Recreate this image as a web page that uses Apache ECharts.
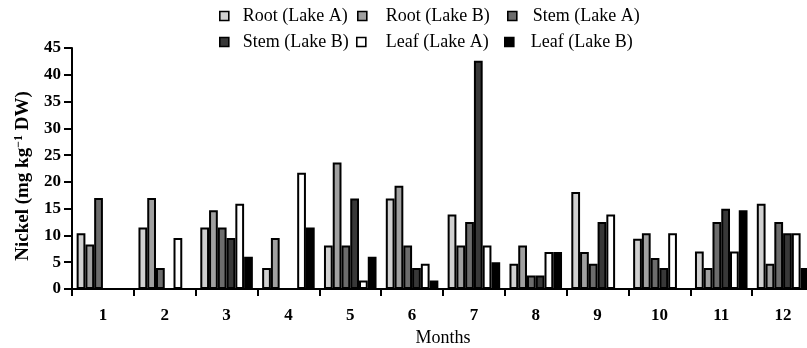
<!DOCTYPE html>
<html>
<head>
<meta charset="utf-8">
<script src="https://cdn.jsdelivr.net/npm/echarts@6/dist/echarts.min.js"></script>
<style>html,body{margin:0;padding:0;background:#fff;}#c{width:807px;height:348px;}</style>
</head>
<body>
<div id="c"></div>
<script>
var months = ['1','2','3','4','5','6','7','8','9','10','11','12'];
var yTicks = [0,5,10,15,20,25,30,35,40,45];
var seriesNames = ['Root (Lake A)','Root (Lake B)','Stem (Lake A)','Stem (Lake B)','Leaf (Lake A)','Leaf (Lake B)'];
var rootA = [10.4, 11.5, 11.5, 3.9, 8.1, 16.9, 13.9, 4.7, 18.1, 9.4, 7.0, 15.9];
var rootB = [8.3, 17.0, 14.7, 9.5, 23.6, 19.3, 8.1, 8.1, 6.9, 10.4, 3.9, 4.7];
var stemA = [17.0, 3.9, 11.5, null, 8.1, 8.1, 12.5, 2.5, 4.7, 5.8, 12.5, 12.5];
var stemB = [null, null, 9.5, null, 16.9, 3.9, 42.6, 2.5, 12.5, 3.9, 15.0, 10.4];
var leafA = [null, 9.5, 15.9, 21.7, 1.6, 4.7, 8.1, 6.9, 13.9, 10.4, 7.0, 10.4];
var leafB = [null, null, 6.0, 11.5, 6.0, 1.6, 5.0, 6.9, null, null, 14.7, 3.9];
var colors = ['#d0d0d0','#a0a0a0','#6c6c6c','#383838','#ffffff','#000000'];

var values = [rootA, rootB, stemA, stemB, leafA, leafB];
var font = 'Liberation Serif';
var series = seriesNames.map(function(n, i){
  return {
    name: n, type: 'bar', data: values[i],
    barGap: '0%', barCategoryGap: '15%',
    itemStyle: {color: colors[i], borderColor: '#000', borderWidth: 2},
    emphasis: {disabled: true}
  };
});
var legPos = [
  {left: 219, top: 7}, {left: 357, top: 7}, {left: 507, top: 7},
  {left: 219, top: 33}, {left: 356, top: 33}, {left: 504, top: 33}
];
var textLeft = [242, 385, 532, 242, 385, 530];
var legends = seriesNames.map(function(n, i){
  return {
    data: [n], left: legPos[i].left, top: legPos[i].top, padding: 0,
    icon: 'rect', itemWidth: 9, itemHeight: 9, selectedMode: false,
    itemStyle: {borderColor: '#000', borderWidth: 1.6},
    textStyle: {fontFamily: font, fontSize: 18, color: '#000',
      padding: [0, 0, 0, textLeft[i] - legPos[i].left - 9 - 5]}
  };
});
var chart = echarts.init(document.getElementById('c'), null, {renderer: 'canvas'});
chart.setOption({
  animation: false,
  backgroundColor: '#fff',
  legend: legends,
  grid: {left: 72, top: 48, width: 742, height: 241, containLabel: false, outerBoundsMode: 'none'},
  xAxis: {
    type: 'category', data: months,
    name: 'Months', nameLocation: 'middle', nameGap: 40,
    nameTextStyle: {fontFamily: font, fontSize: 18, color: '#000'},
    axisLine: {lineStyle: {color: '#000', width: 2}},
    axisTick: {show: true, length: 7, lineStyle: {color: '#000', width: 2}},
    axisLabel: {fontFamily: font, fontSize: 17, fontWeight: 'bold', color: '#000', margin: 18}
  },
  yAxis: {
    type: 'value', min: yTicks[0], max: yTicks[yTicks.length-1], interval: 5,
    name: 'Nickel (mg kg{sup|\u22121} DW)', nameLocation: 'middle', nameGap: 39,
    nameTextStyle: {fontFamily: font, fontSize: 19, fontWeight: 'bold', color: '#000', padding: [0, 15, 0, 0],
      rich: {sup: {fontFamily: font, fontSize: 12, fontWeight: 'bold', color: '#000', verticalAlign: 'top', padding: [0,0,8,0]}}},
    axisLine: {show: true, lineStyle: {color: '#000', width: 2}},
    axisTick: {show: true, length: 8, lineStyle: {color: '#000', width: 2}},
    splitLine: {show: false},
    axisLabel: {fontFamily: font, fontSize: 17, fontWeight: 'bold', color: '#000', margin: 11}
  },
  series: series
});
</script>
</body>
</html>
